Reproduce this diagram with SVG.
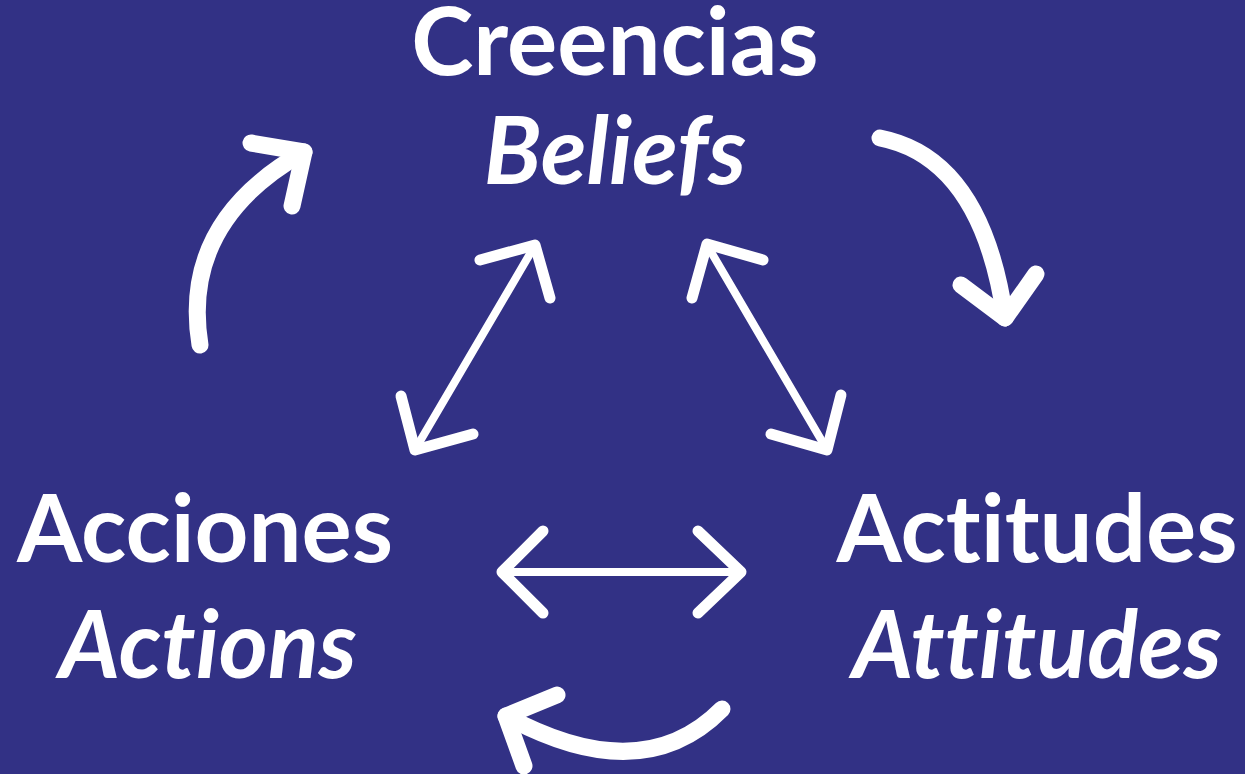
<svg xmlns="http://www.w3.org/2000/svg" width="1245" height="774" viewBox="0 0 1245 774">
<style>
.t{font-family:Lato,"Open Sans",sans-serif;font-weight:700;fill:#fff;text-anchor:middle;font-variant-ligatures:none;font-feature-settings:"liga" 0,"clig" 0}
.i{font-style:italic}
.c{fill:none;stroke:#fff;stroke-linecap:round;stroke-linejoin:round}
</style>
<rect width="1245" height="774" fill="#323185"/>
<g id="creencias"><text class="t" x="615" y="75" font-size="94">Creencias</text><text class="t i" x="615" y="184" font-size="94">Beliefs</text></g>
<g id="acciones"><text class="t" x="205" y="562" font-size="94">Acciones</text><text class="t i" x="208" y="678" font-size="94">Actions</text></g>
<g id="actitudes"><text class="t" x="1037" y="562" font-size="94">Actitudes</text><text class="t i" x="1037" y="678" font-size="94">Attitudes</text></g>
<g id="connectors">
<g class="c" stroke-width="17">
<path d="M200,345 Q180,222 304,152"/><path d="M251,143 L304,152 L292,206"/>
<path d="M880,138 Q982,158 1005,318"/><path d="M961,285 L1005,318 L1036,274"/>
<path d="M722,709 Q642,790 506,716"/><path d="M557,695 L506,716 L524,766"/>
</g>
<g class="c" stroke-width="8">
<path d="M534,247 L416,448"/><path d="M707,245 L826,448"/>
<path d="M503,572 L740,572"/>
</g>
<g class="c" stroke-width="11">
<path d="M480,260 L535,245 L550,298"/><path d="M401,396 L415,450 L473,434"/>
<path d="M763,260 L707,244 L692,298"/><path d="M841,395 L827,450 L771,434"/>
<path d="M543,531 L502,572 L543,613"/><path d="M698,531 L741,572 L698,613"/>
</g>
</g>
</svg>
